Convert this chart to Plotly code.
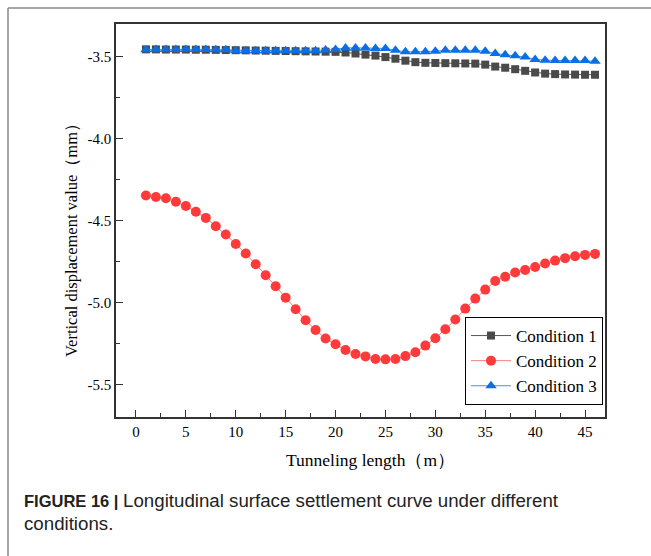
import plotly.graph_objects as go

x_len = list(range(1, 47))

cond1 = [-3.455, -3.455, -3.456, -3.456, -3.456, -3.457, -3.457, -3.458, -3.459, -3.460,
         -3.461, -3.462, -3.463, -3.464, -3.465, -3.466, -3.467, -3.468, -3.469, -3.470,
         -3.474, -3.480, -3.487, -3.493, -3.502, -3.512, -3.524, -3.533, -3.537, -3.538,
         -3.539, -3.540, -3.541, -3.542, -3.548, -3.560, -3.567, -3.576, -3.586, -3.596,
         -3.603, -3.606, -3.608, -3.609, -3.610, -3.610]

cond2 = [-4.347, -4.356, -4.364, -4.386, -4.411, -4.447, -4.484, -4.535, -4.586, -4.643,
         -4.702, -4.767, -4.834, -4.902, -4.971, -5.042, -5.109, -5.169, -5.221, -5.256,
         -5.291, -5.315, -5.330, -5.346, -5.348, -5.346, -5.328, -5.305, -5.264, -5.219,
         -5.164, -5.105, -5.038, -4.977, -4.922, -4.869, -4.843, -4.818, -4.802, -4.784,
         -4.763, -4.745, -4.730, -4.718, -4.710, -4.704]

cond3 = [-3.457, -3.455, -3.455, -3.455, -3.455, -3.455, -3.455, -3.457, -3.457, -3.463,
         -3.463, -3.463, -3.463, -3.463, -3.463, -3.463, -3.463, -3.463, -3.459, -3.455,
         -3.446, -3.446, -3.446, -3.449, -3.449, -3.461, -3.470, -3.470, -3.470, -3.466,
         -3.461, -3.461, -3.461, -3.461, -3.466, -3.480, -3.488, -3.494, -3.502, -3.517,
         -3.521, -3.523, -3.523, -3.523, -3.523, -3.527]

names = ["Condition 1", "Condition 2", "Condition 3"]
x_ticks = [0, 5, 10, 15, 20, 25, 30, 35, 40, 45]
y_ticks = [-5.5, -5.0, -4.5, -4.0, -3.5]
y_tick_text = ["-5.5", "-5.0", "-4.5", "-4.0", "-3.5"]

serif = "Liberation Serif"
sans = "Liberation Sans"

fig = go.Figure()
fig.add_trace(go.Scatter(x=x_len, y=cond1, name=names[0], mode="lines+markers",
                         line=dict(color="#555555", width=1),
                         marker=dict(symbol="square", size=8, color="#4a4a4a")))
fig.add_trace(go.Scatter(x=x_len, y=cond2, name=names[1], mode="lines+markers",
                         line=dict(color="#f78080", width=1),
                         marker=dict(symbol="circle", size=10, color="#ff3a3a")))
fig.add_trace(go.Scatter(x=x_len, y=cond3, name=names[2], mode="lines+markers",
                         line=dict(color="#4a90e2", width=1),
                         marker=dict(symbol="triangle-up", size=10, color="#0a6fe6")))

# plot area in pixels
L, R, T, B = 116, 605, 24, 417
W, H = 651, 556
pw, ph = R - L, B - T

def px(xp):
    return (xp - L) / pw

def py(yp):
    return (B - yp) / ph

fig.update_layout(
    width=W, height=H,
    margin=dict(l=L, r=W - R, t=T, b=H - B),
    paper_bgcolor="white", plot_bgcolor="white",
    font=dict(family=serif, size=15, color="black"),
    showlegend=True,
    legend=dict(x=px(603), y=py(405), xanchor="right", yanchor="bottom",
                bordercolor="black", borderwidth=1, bgcolor="white",
                font=dict(family=serif, size=17, color="black"),
                tracegroupgap=0, itemwidth=40),
    xaxis=dict(range=[-2, 47], tickmode="array", tickvals=x_ticks,
               ticks="inside", ticklen=7, tickwidth=1, tickcolor="#333",
               minor=dict(ticks="inside", ticklen=4, tickwidth=1, tickcolor="#333", dtick=2.5),
               showline=True, linecolor="#333", linewidth=1.5, mirror=True,
               showgrid=False, zeroline=False,
               tickfont=dict(family=serif, size=15, color="black")),
    yaxis=dict(range=[-5.70, -3.30], tickmode="array", tickvals=y_ticks, ticktext=y_tick_text,
               ticks="inside", ticklen=7, tickwidth=1, tickcolor="#333",
               minor=dict(ticks="inside", ticklen=4, tickwidth=1, tickcolor="#333",
                          tickvals=[-5.75, -5.25, -4.75, -4.25, -3.75, -3.25]),
               showline=True, linecolor="#333", linewidth=1.5, mirror=True,
               showgrid=False, zeroline=False,
               tickfont=dict(family=serif, size=15, color="black")),
)

# axis titles as annotations
fig.add_annotation(text="Tunneling length（m）", xref="paper", yref="paper",
                   x=px(370), y=py(460), xanchor="center", yanchor="middle",
                   showarrow=False, font=dict(family=serif, size=17.5, color="black"))
fig.add_annotation(text="Vertical displacement value（mm）", xref="paper", yref="paper",
                   x=px(72), y=py(236), xanchor="center", yanchor="middle", textangle=-90,
                   showarrow=False, font=dict(family=serif, size=16.5, color="black"))

# caption
fig.add_annotation(text="<b>FIGURE 16 |</b> <span style='font-size:18.7px'>Longitudinal surface settlement curve under different</span>",
                   xref="paper", yref="paper", x=px(22), y=py(500), xanchor="left", yanchor="middle",
                   showarrow=False, font=dict(family=sans, size=16.5, color="#222"))
fig.add_annotation(text="conditions.",
                   xref="paper", yref="paper", x=px(22), y=py(523), xanchor="left", yanchor="middle",
                   showarrow=False, font=dict(family=sans, size=18.7, color="#222"))

# outer frame lines
fig.add_shape(type="line", xref="paper", yref="paper", x0=px(8), x1=px(651), y0=py(8), y1=py(8),
              line=dict(color="#8a8a8a", width=1.5))
fig.add_shape(type="line", xref="paper", yref="paper", x0=px(8), x1=px(8), y0=py(8), y1=py(556),
              line=dict(color="#8a8a8a", width=1.5))

fig.write_html("out.html")
